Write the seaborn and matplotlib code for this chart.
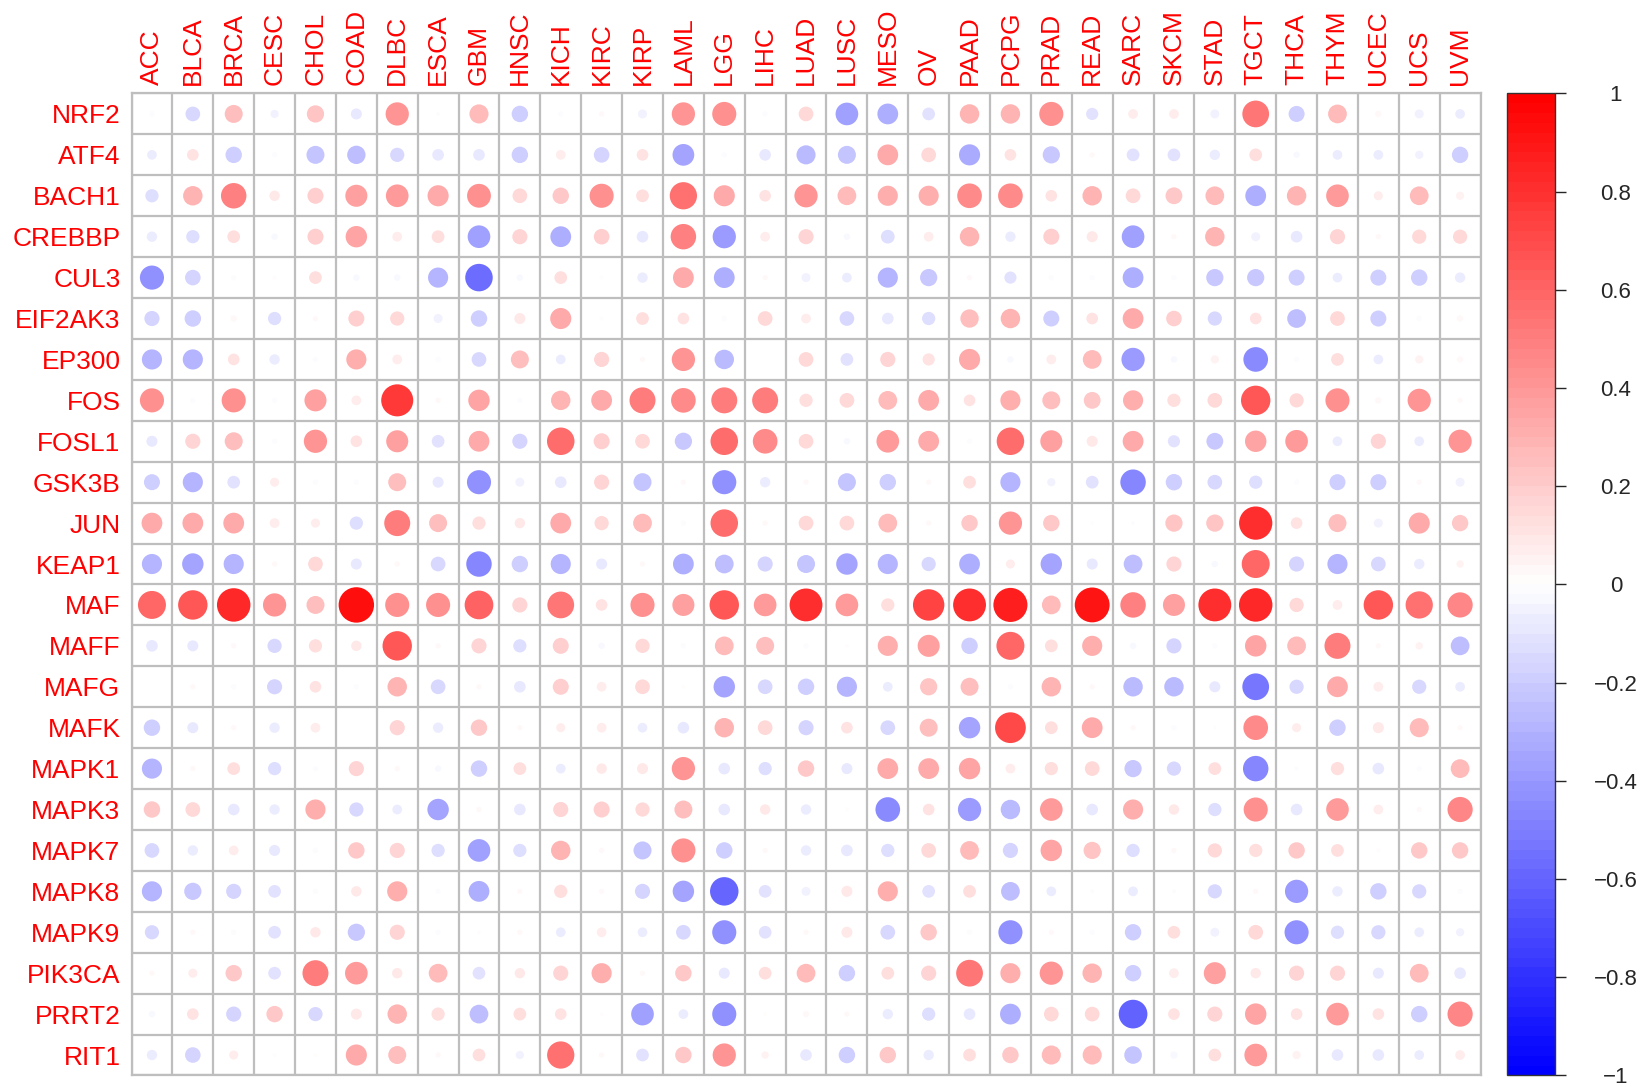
import numpy as np
import pandas as pd
import matplotlib
matplotlib.use("Agg")
import matplotlib.pyplot as plt
import seaborn as sns
from matplotlib.colors import LinearSegmentedColormap, ListedColormap, Normalize
from matplotlib.cm import ScalarMappable

# ---- data ----
cancers = ["ACC", "BLCA", "BRCA", "CESC", "CHOL", "COAD", "DLBC", "ESCA", "GBM", "HNSC",
           "KICH", "KIRC", "KIRP", "LAML", "LGG", "LIHC", "LUAD", "LUSC", "MESO", "OV",
           "PAAD", "PCPG", "PRAD", "READ", "SARC", "SKCM", "STAD", "TGCT", "THCA", "THYM",
           "UCEC", "UCS", "UVM"]
genes = ["NRF2", "ATF4", "BACH1", "CREBBP", "CUL3", "EIF2AK3", "EP300", "FOS", "FOSL1",
         "GSK3B", "JUN", "KEAP1", "MAF", "MAFF", "MAFG", "MAFK", "MAPK1", "MAPK3", "MAPK7",
         "MAPK8", "MAPK9", "PIK3CA", "PRRT2", "RIT1"]

nrf2 = [-0.02, -0.16, 0.24, -0.05, 0.22, -0.09, 0.40, -0.01, 0.27, -0.20, -0.02, 0.02, -0.06,
        0.40, 0.43, -0.02, 0.16, -0.38, -0.32, -0.12, 0.28, 0.28, 0.43, -0.11, 0.07, 0.07,
        -0.06, 0.53, -0.19, 0.26, 0.03, -0.06, -0.07]
atf4 = [-0.07, 0.10, -0.20, -0.02, -0.24, -0.25, -0.15, -0.10, -0.10, -0.20, 0.07, -0.18, 0.10,
        -0.35, -0.02, -0.10, -0.27, -0.24, 0.32, 0.16, -0.33, 0.10, -0.22, 0.02, -0.12, -0.12,
        -0.08, 0.12, -0.03, -0.07, -0.07, -0.05, -0.20]
bach1 = [-0.13, 0.28, 0.48, 0.08, 0.19, 0.36, 0.38, 0.33, 0.42, 0.16, 0.20, 0.43, 0.12, 0.55,
         0.33, 0.10, 0.40, 0.26, 0.30, 0.30, 0.45, 0.45, 0.10, 0.28, 0.16, 0.21, 0.26, -0.32,
         0.28, 0.38, 0.06, 0.26, 0.05]
crebbp = [-0.08, -0.13, 0.12, -0.03, 0.19, 0.34, 0.07, 0.12, -0.38, 0.17, -0.32, 0.18, -0.10,
          0.48, -0.40, 0.07, 0.17, -0.03, -0.14, 0.07, 0.28, -0.08, 0.19, 0.09, -0.38, 0.02,
          0.28, -0.06, -0.10, 0.17, 0.02, 0.15, 0.15]
cul3 = [-0.43, -0.18, -0.02, 0.01, 0.12, -0.03, -0.03, -0.30, -0.56, -0.03, 0.12, 0.01, -0.08,
        0.32, -0.32, 0.02, -0.06, -0.07, -0.30, -0.22, 0.02, -0.11, -0.02, -0.02, -0.32, -0.02,
        -0.22, -0.22, -0.19, -0.07, -0.19, -0.20, -0.08]
eif2ak3 = [-0.17, -0.20, 0.03, -0.13, 0.02, 0.19, 0.15, -0.06, -0.20, 0.09, 0.33, 0.01, 0.12,
           0.10, -0.02, 0.16, 0.07, -0.16, -0.10, -0.13, 0.25, 0.28, -0.19, 0.10, 0.32, 0.18,
           -0.15, 0.10, -0.26, 0.16, -0.19, -0.02, 0.03]
ep300 = [-0.30, -0.30, 0.10, -0.08, -0.02, 0.30, 0.07, -0.02, -0.16, 0.24, -0.07, 0.17, 0.02,
         0.40, -0.28, 0.00, 0.16, -0.12, 0.17, 0.11, 0.33, -0.03, 0.07, 0.26, -0.40, -0.03,
         0.05, -0.45, -0.02, 0.12, -0.07, 0.05, 0.03]
fos = [0.43, -0.02, 0.43, -0.02, 0.36, 0.07, 0.76, 0.02, 0.34, -0.02, 0.28, 0.32, 0.50, 0.45,
       0.50, 0.50, 0.13, 0.16, 0.26, 0.32, 0.10, 0.30, 0.24, 0.21, 0.30, 0.13, 0.16, 0.64,
       0.15, 0.43, 0.03, 0.40, 0.02]
fosl1 = [-0.09, 0.17, 0.24, -0.02, 0.40, 0.10, 0.36, -0.12, 0.32, -0.17, 0.56, 0.19, 0.16,
         -0.22, 0.56, 0.45, 0.16, -0.03, 0.38, 0.32, -0.02, 0.56, 0.36, 0.09, 0.32, -0.11,
         -0.21, 0.34, 0.38, -0.07, 0.17, -0.07, 0.40]
gsk3b = [-0.19, -0.30, -0.12, 0.06, -0.02, -0.02, 0.24, -0.09, -0.43, -0.06, -0.10, 0.17, -0.24,
         0.02, -0.43, -0.08, 0.02, -0.24, -0.20, 0.02, 0.12, -0.30, -0.05, -0.12, -0.48, -0.20,
         -0.16, -0.13, -0.02, -0.19, -0.19, 0.02, -0.06]
jun = [0.32, 0.32, 0.32, 0.07, 0.06, -0.13, 0.50, 0.24, 0.13, 0.08, 0.32, 0.15, 0.26, -0.02,
       0.56, 0.02, 0.16, 0.16, 0.26, 0.02, 0.20, 0.40, 0.20, 0.01, -0.01, 0.22, 0.22, 0.82,
       0.10, 0.24, -0.06, 0.33, 0.20]
keap1 = [-0.30, -0.34, -0.30, 0.02, 0.16, -0.09, 0.02, -0.16, -0.48, -0.20, -0.30, -0.09, 0.02,
         -0.32, -0.26, -0.17, -0.24, -0.34, -0.30, -0.15, -0.32, 0.06, -0.34, -0.09, -0.26,
         0.17, -0.03, 0.58, -0.17, -0.30, -0.16, -0.08, 0.04]
maf = [0.58, 0.64, 0.83, 0.40, 0.24, 0.93, 0.43, 0.43, 0.61, 0.17, 0.53, 0.10, 0.43, 0.36,
       0.64, 0.38, 0.80, 0.38, 0.13, 0.73, 0.80, 0.86, 0.26, 0.90, 0.48, 0.36, 0.80, 0.83,
       0.15, 0.07, 0.64, 0.55, 0.47]
maff = [-0.10, -0.09, 0.02, -0.15, 0.13, 0.08, 0.64, 0.02, 0.17, -0.13, 0.19, -0.03, 0.15,
        -0.02, 0.26, 0.24, -0.02, 0.01, 0.30, 0.36, -0.20, 0.58, 0.12, 0.30, -0.03, -0.17,
        -0.02, 0.34, 0.26, 0.50, 0.02, 0.04, -0.26]
mafg = [0.00, 0.02, -0.02, -0.17, 0.10, -0.02, 0.28, -0.16, 0.02, -0.10, 0.19, 0.07, 0.16,
        0.01, -0.34, -0.16, -0.20, -0.30, -0.07, 0.22, 0.24, -0.02, 0.28, 0.02, -0.28, -0.28,
        -0.09, -0.53, -0.15, 0.32, 0.07, -0.15, -0.07]
mafk = [-0.20, -0.09, 0.02, -0.08, 0.07, 0.00, 0.17, -0.08, 0.20, 0.02, 0.06, 0.07, -0.07,
        -0.10, 0.28, 0.16, -0.17, 0.10, -0.16, 0.24, -0.34, 0.70, 0.12, 0.32, 0.02, -0.02,
        0.01, 0.45, 0.06, -0.20, 0.09, 0.27, 0.02]
mapk1 = [-0.30, 0.02, 0.12, -0.13, -0.02, 0.17, 0.02, -0.03, -0.20, 0.12, -0.07, 0.08, 0.09,
         0.40, -0.10, -0.13, 0.20, -0.09, 0.32, 0.32, 0.34, 0.07, 0.13, 0.16, -0.22, -0.15,
         0.12, -0.48, -0.01, 0.13, -0.10, -0.02, 0.26]
mapk3 = [0.20, 0.16, -0.10, -0.08, 0.30, -0.15, -0.07, -0.34, 0.02, -0.10, 0.17, 0.19, 0.15,
         0.24, -0.10, 0.08, -0.08, 0.01, -0.45, 0.10, -0.40, -0.28, 0.38, -0.10, 0.30, 0.08,
         -0.13, 0.43, -0.10, 0.38, 0.07, 0.02, 0.47]
mapk7 = [-0.16, -0.08, 0.07, -0.09, -0.02, 0.20, 0.17, -0.13, -0.38, -0.13, 0.28, 0.02, -0.24,
         0.43, -0.20, 0.02, -0.08, -0.10, -0.13, 0.16, 0.26, -0.17, 0.34, 0.22, -0.13, 0.02,
         0.15, 0.13, 0.20, 0.12, 0.01, 0.20, 0.20]
mapk8 = [-0.30, -0.22, -0.17, -0.12, -0.02, 0.08, 0.30, -0.02, -0.32, 0.02, 0.13, 0.02, -0.17,
         -0.34, -0.60, -0.12, -0.06, 0.09, 0.30, -0.12, 0.12, -0.26, -0.07, -0.01, -0.07, -0.01,
         -0.15, 0.02, -0.40, -0.08, -0.20, -0.15, -0.02]
mapk9 = [-0.15, 0.02, -0.02, -0.12, 0.08, -0.22, 0.17, -0.02, 0.01, 0.02, -0.07, 0.07, -0.07,
         -0.16, -0.43, -0.12, 0.02, 0.09, -0.16, 0.20, -0.02, -0.43, 0.02, -0.02, -0.20, 0.12,
         -0.06, 0.16, -0.43, -0.13, -0.15, -0.07, -0.05]
pik3ca = [0.02, 0.06, 0.20, -0.12, 0.50, 0.38, 0.08, 0.26, -0.12, 0.08, 0.17, 0.30, 0.02, 0.20,
          -0.09, 0.12, 0.26, -0.20, 0.12, 0.17, 0.53, 0.30, 0.40, 0.28, -0.20, 0.07, 0.36, 0.08,
          0.17, 0.17, -0.09, 0.26, -0.10]
prrt2 = [-0.03, 0.10, -0.17, 0.20, -0.15, 0.09, 0.28, 0.13, -0.26, 0.12, 0.10, 0.01, -0.38,
         -0.07, -0.43, 0.01, 0.03, 0.02, -0.08, -0.13, -0.10, -0.32, 0.16, 0.16, -0.61, 0.10,
         0.17, 0.34, 0.10, 0.38, 0.10, -0.20, 0.47]
rit1 = [-0.08, -0.18, 0.06, 0.01, 0.01, 0.33, 0.24, 0.02, 0.12, -0.05, 0.55, 0.02, -0.12, 0.20,
        0.40, 0.04, -0.10, -0.20, 0.20, -0.08, 0.12, 0.20, 0.27, 0.27, -0.23, -0.04, 0.12,
        0.38, 0.05, -0.10, -0.10, -0.07, 0.07]

rows = [nrf2, atf4, bach1, crebbp, cul3, eif2ak3, ep300, fos, fosl1, gsk3b, jun, keap1, maf,
        maff, mafg, mafk, mapk1, mapk3, mapk7, mapk8, mapk9, pik3ca, prrt2, rit1]

# long table for seaborn
df = pd.DataFrame(rows, index=genes, columns=cancers)
long = df.reset_index(names="gene").melt(id_vars="gene", var_name="cancer", value_name="r")
long["absr"] = long["r"].abs()

# blue - white - red palette in 100 steps (corrplot look)
base = LinearSegmentedColormap.from_list("bwr_plain", ["#0000FF", "#FFFFFF", "#FF0000"])
cmap = ListedColormap(base(np.linspace(0, 1, 100)))

sns.set_style("white")
plt.rcParams["font.family"] = ["Liberation Sans", "DejaVu Sans"]

fig = plt.figure(figsize=(16.5, 10.87), dpi=100)
ax = fig.add_axes([0.0797, 0.0106, 0.8176, 0.9034])
cax = fig.add_axes([0.9133, 0.0106, 0.029, 0.9034])

# circle area proportional to |r|
sns.scatterplot(data=long, x="cancer", y="gene", hue="r", palette=cmap, hue_norm=(-1, 1),
                size="absr", sizes=(0, 700), size_norm=(0, 1), linewidth=0,
                legend=False, ax=ax, zorder=3)

ax.set_xlim(-0.5, len(cancers) - 0.5)
ax.set_ylim(len(genes) - 0.5, -0.5)
ax.set_xticks(np.arange(-0.5, len(cancers)), minor=True)
ax.set_yticks(np.arange(-0.5, len(genes)), minor=True)
ax.grid(which="minor", color="#BEBEBE", linewidth=1.6)
ax.grid(which="major", visible=False)
ax.set_axisbelow(True)
for sp in ax.spines.values():
    sp.set_color("#BEBEBE")
    sp.set_linewidth(1.6)

ax.set_xlabel("")
ax.set_ylabel("")
ax.xaxis.tick_top()
ax.tick_params(which="both", length=0)
ax.tick_params(axis="x", pad=6, labelsize=19, labelcolor="red")
ax.tick_params(axis="y", pad=8, labelsize=19, labelcolor="red")
plt.setp(ax.get_xticklabels(), rotation=90, ha="center", va="bottom")

# colour legend
sm = ScalarMappable(norm=Normalize(-1, 1), cmap=cmap)
cb = fig.colorbar(sm, cax=cax, ticks=np.linspace(-1, 1, 11))
tick_txt = ["\u22121", "\u22120.8", "\u22120.6", "\u22120.4", "\u22120.2", "0",
            "0.2", "0.4", "0.6", "0.8", "1"]
cb.ax.set_yticklabels(tick_txt)
cb.outline.set_linewidth(1)
cb.outline.set_edgecolor("#333333")
cax.tick_params(length=8, width=1, labelsize=16, pad=36)
plt.setp(cax.get_yticklabels(), ha="center")

plt.savefig("out.png", dpi=100)
